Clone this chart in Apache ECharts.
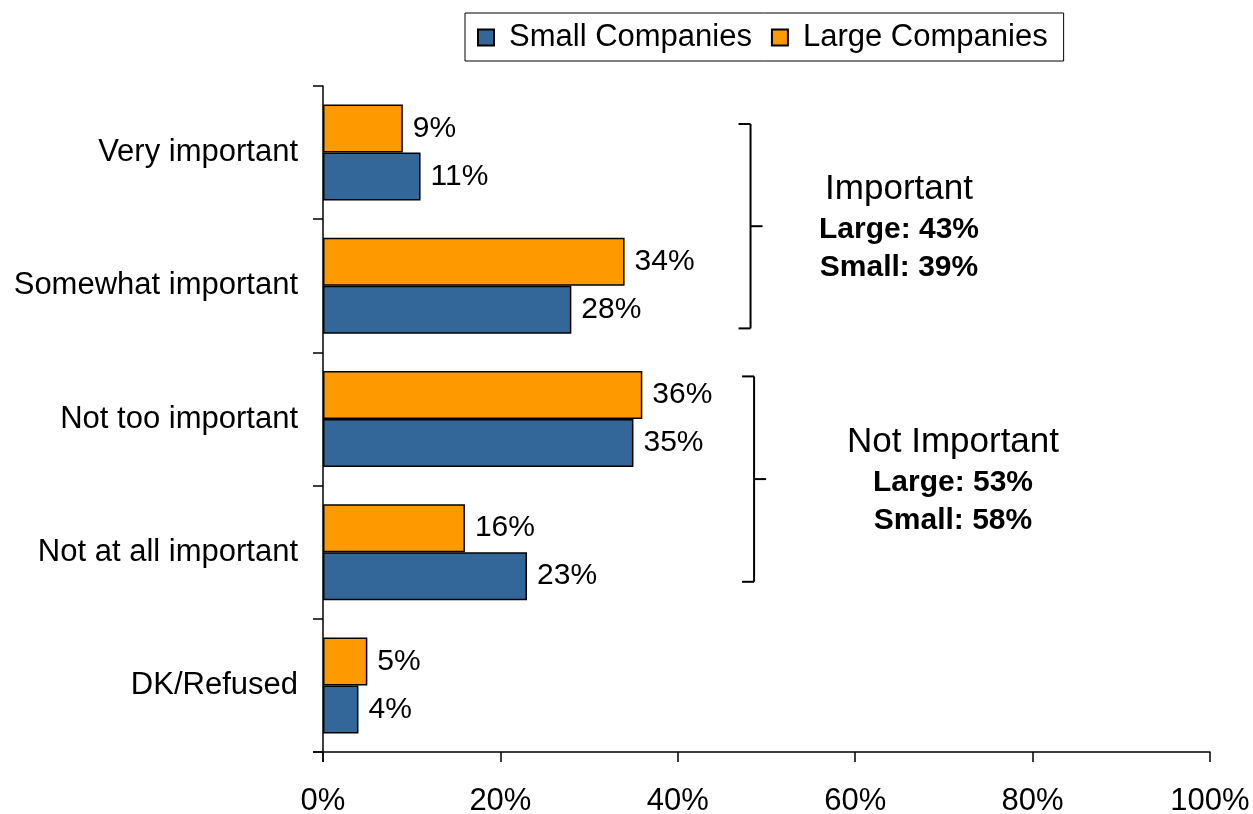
<!DOCTYPE html>
<html>
<head>
<meta charset="utf-8">
<script src="https://cdn.jsdelivr.net/npm/echarts@6/dist/echarts.min.js"></script>
<style>
  html, body { margin: 0; padding: 0; background: #ffffff; }
  #chart { width: 1253px; height: 814px; }
</style>
</head>
<body>
<div id="chart"></div>
<script>
// Survey responses by importance, split by company size (percent)
const categories = ['Very important', 'Somewhat important', 'Not too important', 'Not at all important', 'DK/Refused'];
const largeValues = [9, 34, 36, 16, 5];
const smallValues = [11, 28, 35, 23, 4];
const xTicks = [0, 20, 40, 60, 80, 100];

// Grouped totals shown beside the brackets
const groupTitles = ['Important', 'Not Important'];
const groupLarge = [43, 53];
const groupSmall = [39, 58];

const FONT = '"Liberation Sans", Arial, sans-serif';
const GRID = { left: 323, right: 43, top: 86, bottom: 62 };

const chart = echarts.init(document.getElementById('chart'), null, { renderer: 'canvas' });

const labelStyle = {
  show: true,
  position: 'right',
  distance: 10,
  color: '#000',
  fontFamily: FONT,
  fontSize: 30,
  formatter: p => p.value + '%'
};

chart.setOption({
  animation: false,
  backgroundColor: '#ffffff',
  textStyle: { fontFamily: FONT },
  legend: {
    data: ['Small Companies', 'Large Companies'],
    left: 465,
    top: 13,
    padding: [9, 16, 8, 12],
    itemGap: 19,
    itemWidth: 16,
    itemHeight: 16,
    icon: 'rect',
    borderColor: '#000',
    borderWidth: 1,
    textStyle: { fontFamily: FONT, fontSize: 31, color: '#000', padding: [0, 0, 0, 10] }
  },
  grid: {
    left: GRID.left, right: GRID.right, top: GRID.top, bottom: GRID.bottom,
    containLabel: false,
    outerBoundsMode: 'none'
  },
  xAxis: {
    type: 'value',
    min: xTicks[0],
    max: xTicks[xTicks.length - 1],
    interval: 20,
    splitLine: { show: false },
    axisLine: { show: true, lineStyle: { color: '#000', width: 1.5 } },
    axisTick: { show: true, length: 10, lineStyle: { color: '#000', width: 1.5 } },
    axisLabel: { color: '#000', fontSize: 31, fontFamily: FONT, margin: 34, formatter: v => v + '%' }
  },
  yAxis: {
    type: 'category',
    data: categories,
    inverse: true,
    axisLine: { show: true, lineStyle: { color: '#000', width: 1.5 } },
    axisTick: { show: true, length: 10, alignWithLabel: false, lineStyle: { color: '#000', width: 1.5 } },
    axisLabel: { color: '#000', fontSize: 31, fontFamily: FONT, margin: 25 }
  },
  series: [
    {
      name: 'Large Companies',
      type: 'bar',
      data: largeValues,
      barWidth: 48,
      barGap: '0%',
      itemStyle: { color: '#FF9900', borderColor: '#000', borderWidth: 1.5 },
      label: labelStyle
    },
    {
      name: 'Small Companies',
      type: 'bar',
      data: smallValues,
      barWidth: 48,
      barGap: '0%',
      itemStyle: { color: '#336699', borderColor: '#000', borderWidth: 1.5 },
      label: labelStyle
    }
  ]
});

// Brackets grouping the categories, with their totals
function drawBrackets() {
  const xAt = v => chart.convertToPixel({ xAxisIndex: 0 }, v);
  const plotBottom = chart.getHeight() - GRID.bottom;
  const band = (plotBottom - GRID.top) / categories.length;
  const bandTop = i => GRID.top + band * i;
  const line = (x1, y1, x2, y2, w) => ({
    type: 'line',
    shape: { x1, y1, x2, y2 },
    style: { stroke: '#000', lineWidth: w || 2 },
    silent: true
  });
  const text = (str, cx, cy, size, weight) => ({
    type: 'text',
    x: cx, y: cy,
    style: {
      text: str, fill: '#000', fontFamily: FONT, fontSize: size, fontWeight: weight,
      textAlign: 'center', textVerticalAlign: 'middle'
    },
    silent: true
  });

  const groups = [
    { x: xAt(48.2), y1: bandTop(0) + 38, y2: bandTop(2) - 24, tx: 899 },
    { x: xAt(48.6), y1: bandTop(2) + 24, y2: bandTop(4) - 37, tx: 953 }
  ];
  const elements = [];
  // axis lines run slightly past the origin, like the tick marks
  elements.push(line(GRID.left - 10, plotBottom, GRID.left, plotBottom, 1.5));
  elements.push(line(GRID.left, plotBottom, GRID.left, plotBottom + 10, 1.5));
  groups.forEach((g, i) => {
    const mid = (g.y1 + g.y2) / 2;
    elements.push(line(g.x, g.y1, g.x, g.y2));
    elements.push(line(g.x - 12, g.y1, g.x, g.y1));
    elements.push(line(g.x - 12, g.y2, g.x, g.y2));
    elements.push(line(g.x, mid, g.x + 12, mid));
    elements.push(text(groupTitles[i], g.tx, mid - 37, 35, 'normal'));
    elements.push(text('Large: ' + groupLarge[i] + '%', g.tx, mid + 4, 30, 'bold'));
    elements.push(text('Small: ' + groupSmall[i] + '%', g.tx, mid + 42, 30, 'bold'));
  });
  chart.setOption({ graphic: { elements } });
}
drawBrackets();
</script>
</body>
</html>
